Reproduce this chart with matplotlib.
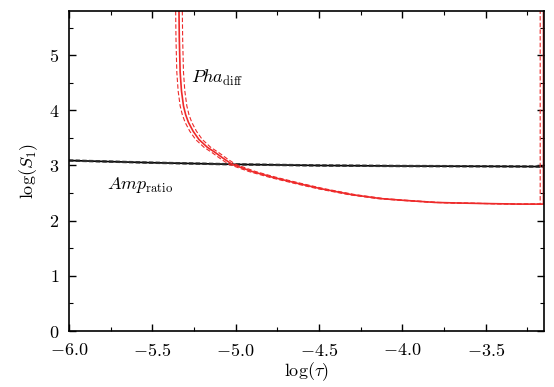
import numpy as np
import matplotlib
matplotlib.use("Agg")
from matplotlib import pyplot as plt
from matplotlib.ticker import MultipleLocator

plt.rcParams['mathtext.fontset'] = 'cm'
plt.rcParams['font.family'] = 'serif'
plt.rcParams['font.serif'] = ['cmr10', 'DejaVu Serif']
plt.rcParams['axes.formatter.use_mathtext'] = True

# Amp_ratio curve (black) with its band
amp_x = [-6.0, -5.5, -5.0, -4.5, -4.0, -3.5, -3.152]
amp_y = [3.09, 3.05, 3.02, 3.00, 2.99, 2.985, 2.98]
amp_err = 0.012

# Pha_diff curve (red) with its band (spread in log tau)
pha_x = [-5.34, -5.338, -5.333, -5.325, -5.313, -5.30, -5.283, -5.255,
         -5.22, -5.17, -5.12, -5.07, -5.02, -4.9, -4.77, -4.62, -4.49,
         -4.3, -4.13, -4.0, -3.8, -3.67, -3.5, -3.3, -3.153, -3.153]
pha_y = [5.8, 5.29, 4.69, 4.35, 4.08, 3.92, 3.78, 3.62,
         3.47, 3.33, 3.23, 3.12, 3.02, 2.89, 2.78, 2.67, 2.58,
         2.47, 2.40, 2.37, 2.33, 2.32, 2.31, 2.30, 2.30, 5.8]
pha_err = 0.02

red = '#ee2a2a'

fig = plt.figure(figsize=(5.54, 3.87), dpi=100)
ax = fig.add_axes([0.1245, 0.1447, 0.8575, 0.8269])

ax.plot(amp_x, amp_y, color='black', lw=1.2)
ax.plot(amp_x, np.array(amp_y) + amp_err, color='#333333', lw=0.8, ls=(0, (4, 2)))
ax.plot(amp_x, np.array(amp_y) - amp_err, color='#333333', lw=0.8, ls=(0, (4, 2)))

px = np.array(pha_x)
ax.plot(px, pha_y, color=red, lw=1.2)
ax.plot(np.minimum(px - pha_err, -3.153), pha_y, color=red, lw=0.8, ls=(0, (4, 2)))
ax.plot(np.minimum(px + pha_err, -3.153), pha_y, color=red, lw=0.8, ls=(0, (4, 2)))

ax.text(-5.265, 4.5, r'$Pha_{\mathrm{diff}}$', fontsize=13)
ax.text(-5.77, 2.58, r'$Amp_{\mathrm{ratio}}$', fontsize=13)

ax.set_xlim(-6.0, -3.15)
ax.set_ylim(0, 5.8)
ax.xaxis.set_major_locator(MultipleLocator(0.5))
ax.xaxis.set_minor_locator(MultipleLocator(0.25))
ax.yaxis.set_major_locator(MultipleLocator(1))
ax.yaxis.set_minor_locator(MultipleLocator(0.5))
ax.tick_params(which='both', direction='in', top=True, right=True, labelsize=13)
ax.tick_params(which='major', length=5, width=1)
ax.tick_params(which='minor', length=3, width=0.8)
ax.tick_params(axis='x', which='major', pad=8)
ax.tick_params(axis='y', which='major', pad=7)
for s in ax.spines.values():
    s.set_linewidth(1.2)

ax.set_xlabel(r'$\log(\tau)$', fontsize=13, labelpad=1)
ax.set_ylabel(r'$\log(S_1)$', fontsize=13, labelpad=6)

fig.savefig('out.png', dpi=100)
